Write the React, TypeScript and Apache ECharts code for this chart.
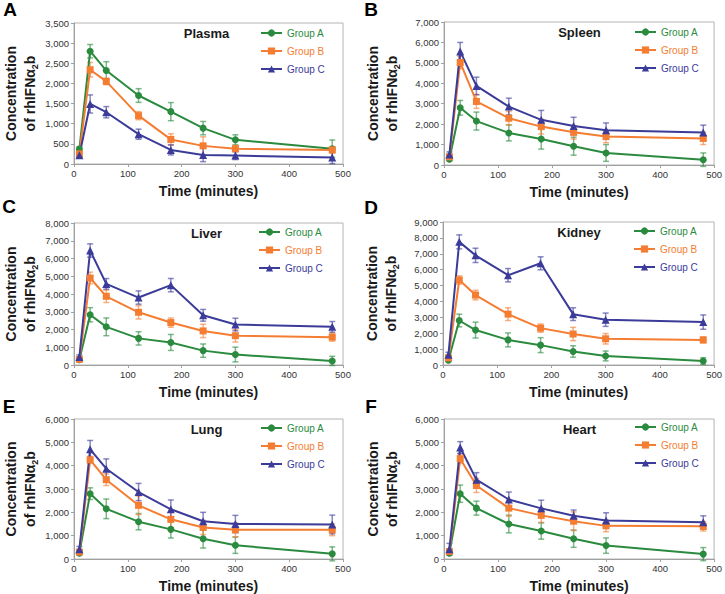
import React, { useEffect, useRef } from 'react';
import * as echarts from 'echarts';

const TIMES = [10, 30, 60, 120, 180, 240, 300, 480];
const GROUPS = ['Group A', 'Group B', 'Group C'];
const PANEL_LETTERS = ['A', 'B', 'C', 'D', 'E', 'F'];
const TISSUES = ['Plasma', 'Spleen', 'Liver', 'Kidney', 'Lung', 'Heart'];
const Y_MAX = [3500, 7000, 8000, 9000, 6000, 6000];
const Y_STEP = [500, 1000, 1000, 1000, 1000, 1000];
const X_MAX = 500;
const X_STEP = 100;

// Plasma
const plasmaA = [370, 2800, 2320, 1700, 1300, 890, 600, 380];
const plasmaAErr = [60, 166, 220, 170, 225, 166, 125, 215];
const plasmaB = [250, 2340, 2050, 1200, 610, 450, 380, 350];
const plasmaBErr = [60, 180, 80, 100, 140, 225, 80, 80];
const plasmaC = [215, 1490, 1285, 740, 350, 225, 210, 160];
const plasmaCErr = [50, 225, 140, 125, 125, 166, 100, 150];
// Spleen
const spleenA = [280, 2800, 2150, 1570, 1270, 920, 590, 260];
const spleenAErr = [80, 360, 440, 390, 490, 440, 410, 330];
const spleenB = [400, 5020, 3110, 2290, 1880, 1600, 1390, 1300];
const spleenBErr = [100, 300, 340, 330, 360, 330, 300, 300];
const spleenC = [520, 5560, 3870, 2860, 2210, 1910, 1700, 1590];
const spleenCErr = [120, 440, 430, 410, 460, 425, 360, 360];
// Liver
const liverA = [300, 2830, 2150, 1500, 1270, 810, 590, 230];
const liverAErr = [80, 400, 500, 375, 450, 375, 415, 260];
const liverB = [320, 4900, 3870, 2970, 2390, 1920, 1650, 1570];
const liverBErr = [80, 330, 350, 375, 260, 375, 355, 225];
const liverC = [450, 6450, 4570, 3800, 4500, 2800, 2280, 2150];
const liverCErr = [120, 375, 300, 375, 375, 330, 355, 300];
// Kidney
const kidneyA = [300, 2800, 2200, 1580, 1250, 850, 570, 250];
const kidneyAErr = [80, 400, 500, 440, 470, 360, 310, 210];
const kidneyB = [450, 5350, 4400, 3200, 2320, 1950, 1650, 1580];
const kidneyBErr = [100, 260, 300, 400, 260, 420, 330, 190];
const kidneyC = [650, 7750, 6900, 5650, 6400, 3200, 2850, 2700];
const kidneyCErr = [150, 440, 450, 420, 410, 400, 420, 450];
// Lung
const lungA = [250, 2800, 2150, 1600, 1270, 870, 590, 220];
const lungAErr = [60, 250, 420, 350, 370, 400, 350, 300];
const lungB = [300, 4250, 3400, 2300, 1700, 1350, 1250, 1250];
const lungBErr = [80, 150, 250, 400, 350, 300, 300, 250];
const lungC = [420, 4700, 3870, 2870, 2130, 1620, 1500, 1480];
const lungCErr = [120, 380, 420, 370, 400, 380, 370, 400];
// Heart
const heartA = [250, 2800, 2180, 1500, 1200, 870, 575, 210];
const heartAErr = [60, 370, 300, 380, 350, 370, 330, 280];
const heartB = [320, 4300, 3150, 2180, 1870, 1620, 1420, 1400];
const heartBErr = [80, 200, 300, 350, 300, 400, 250, 200];
const heartC = [420, 4780, 3400, 2550, 2170, 1850, 1650, 1570];
const heartCErr = [250, 250, 300, 320, 350, 250, 330, 280];

const MEANS = [
  [plasmaA, plasmaB, plasmaC],
  [spleenA, spleenB, spleenC],
  [liverA, liverB, liverC],
  [kidneyA, kidneyB, kidneyC],
  [lungA, lungB, lungC],
  [heartA, heartB, heartC],
];
const ERRS = [
  [plasmaAErr, plasmaBErr, plasmaCErr],
  [spleenAErr, spleenBErr, spleenCErr],
  [liverAErr, liverBErr, liverCErr],
  [kidneyAErr, kidneyBErr, kidneyCErr],
  [lungAErr, lungBErr, lungCErr],
  [heartAErr, heartBErr, heartCErr],
];

// layout
const COLORS = ['#2a8a3e', '#f47d32', '#3b3b99'];
const ERR_COLORS = ['rgba(42,138,62,0.6)', 'rgba(244,125,50,0.6)', 'rgba(59,59,153,0.6)'];
const SYMBOLS = ['circle', 'rect', 'triangle'];
const SYMBOL_SIZES = [7, 7, 8];
const BOXES = [
  { left: 70, top: 23, width: 273, height: 141 },
  { left: 444, top: 22, width: 271, height: 143 },
  { left: 70, top: 223, width: 273, height: 142 },
  { left: 443, top: 222, width: 272, height: 143 },
  { left: 70, top: 419, width: 273, height: 143 },
  { left: 444, top: 419, width: 271, height: 143 },
];
const LEGEND_POS = [
  { left: 260, top: 27 },
  { left: 634, top: 26 },
  { left: 258, top: 226 },
  { left: 633, top: 225 },
  { left: 260, top: 422 },
  { left: 634, top: 421 },
];
const LETTER_POS = [
  [10, 9], [371, 9], [9, 206], [371, 207], [9, 406], [371, 406],
];
const NAME_GAPS = [35, 43, 35, 43, 35, 43];
const FONT = '"Liberation Sans", Arial, Helvetica, sans-serif';

function buildOption() {
  const grid: any[] = [];
  const xAxis: any[] = [];
  const yAxis: any[] = [];
  const series: any[] = [];
  const legend: any[] = [];
  const graphic: any[] = [];

  BOXES.forEach((b, p) => {
    grid.push({ ...b, show: true, borderColor: '#b4b4b4', borderWidth: 1, containLabel: false });
    xAxis.push({
      type: 'value',
      gridIndex: p,
      min: 0,
      max: X_MAX,
      interval: X_STEP,
      name: 'Time (minutes)',
      nameLocation: 'middle',
      nameGap: 20,
      nameTextStyle: { fontFamily: FONT, fontSize: 14, fontWeight: 'bold', color: '#1a1a1a' },
      axisLine: { lineStyle: { color: '#a0a0a0', width: 1 } },
      axisTick: { length: 3, lineStyle: { color: '#a0a0a0' } },
      axisLabel: { fontFamily: FONT, fontSize: 9.5, color: '#333', margin: 4 },
      splitLine: { show: false },
    });
    yAxis.push({
      type: 'value',
      gridIndex: p,
      min: 0,
      max: Y_MAX[p],
      interval: Y_STEP[p],
      name: 'Concentration\nof rhIFNα{sub|2}b',
      nameLocation: 'middle',
      nameGap: NAME_GAPS[p],
      nameTextStyle: {
        fontFamily: FONT,
        fontSize: 14,
        fontWeight: 'bold',
        color: '#1a1a1a',
        lineHeight: 19,
        rich: {
          sub: { fontFamily: FONT, fontSize: 9, fontWeight: 'bold', color: '#1a1a1a', lineHeight: 9, verticalAlign: 'bottom' },
        },
      },
      axisLine: { show: true, lineStyle: { color: '#a0a0a0', width: 1 } },
      axisTick: { show: true, length: 3, lineStyle: { color: '#a0a0a0' } },
      axisLabel: {
        fontFamily: FONT,
        fontSize: 9.5,
        color: '#333',
        margin: 5,
        formatter: (v: number) => v.toLocaleString('en-US'),
      },
      splitLine: { show: false },
    });

    GROUPS.forEach((g, k) => {
      const mean = MEANS[p][k];
      const err = ERRS[p][k];
      series.push({
        type: 'custom',
        name: g + ' SD',
        xAxisIndex: p,
        yAxisIndex: p,
        z: 2,
        silent: true,
        data: TIMES.map((t, i) => [t, mean[i] - err[i], mean[i] + err[i]]),
        encode: { x: 0, y: [1, 2] },
        renderItem: (params: any, api: any) => {
          const x = api.value(0);
          const top = api.coord([x, api.value(2)]);
          const bot = api.coord([x, api.value(1)]);
          const w = 3;
          const style = { stroke: ERR_COLORS[k], lineWidth: 1.5 };
          return {
            type: 'group',
            children: [
              { type: 'line', shape: { x1: top[0], y1: top[1], x2: bot[0], y2: bot[1] }, style },
              { type: 'line', shape: { x1: top[0] - w, y1: top[1], x2: top[0] + w, y2: top[1] }, style },
              { type: 'line', shape: { x1: bot[0] - w, y1: bot[1], x2: bot[0] + w, y2: bot[1] }, style },
            ],
          };
        },
      });
      series.push({
        type: 'line',
        name: g,
        xAxisIndex: p,
        yAxisIndex: p,
        z: 3,
        data: TIMES.map((t, i) => [t, mean[i]]),
        symbol: SYMBOLS[k],
        symbolSize: SYMBOL_SIZES[k],
        showAllSymbol: true,
        color: COLORS[k],
        lineStyle: { color: COLORS[k], width: 2 },
        itemStyle: { color: COLORS[k] },
      });
    });

    legend.push({
      ...LEGEND_POS[p],
      orient: 'vertical',
      selectedMode: false,
      itemWidth: 21,
      itemHeight: 9,
      itemGap: 6,
      padding: 0,
      textStyle: { fontFamily: FONT, fontSize: 10, lineHeight: 12 },
      data: GROUPS.map((g, k) => ({ name: g, textStyle: { color: COLORS[k] } })),
    });

    graphic.push({
      type: 'text',
      x: b.left + b.width / 2,
      y: b.top + 10,
      style: {
        text: TISSUES[p],
        font: `bold 13px ${FONT}`,
        fill: '#1a1a1a',
        align: 'center',
        verticalAlign: 'middle',
      },
    });
    graphic.push({
      type: 'text',
      x: LETTER_POS[p][0],
      y: LETTER_POS[p][1],
      style: {
        text: PANEL_LETTERS[p],
        font: `bold 19px ${FONT}`,
        fill: '#000',
        align: 'center',
        verticalAlign: 'middle',
      },
    });
  });

  return {
    animation: false,
    backgroundColor: '#ffffff',
    grid,
    xAxis,
    yAxis,
    series,
    legend,
    graphic,
  };
}

export default function App() {
  const ref = useRef<HTMLDivElement>(null);
  useEffect(() => {
    if (!ref.current) return;
    const chart = echarts.init(ref.current, undefined, { renderer: 'svg' });
    chart.setOption(buildOption() as any);
    return () => chart.dispose();
  }, []);
  return (
    <div
      ref={ref}
      style={{ position: 'absolute', left: 0, top: 0, width: 725, height: 594, background: '#fff' }}
    />
  );
}
